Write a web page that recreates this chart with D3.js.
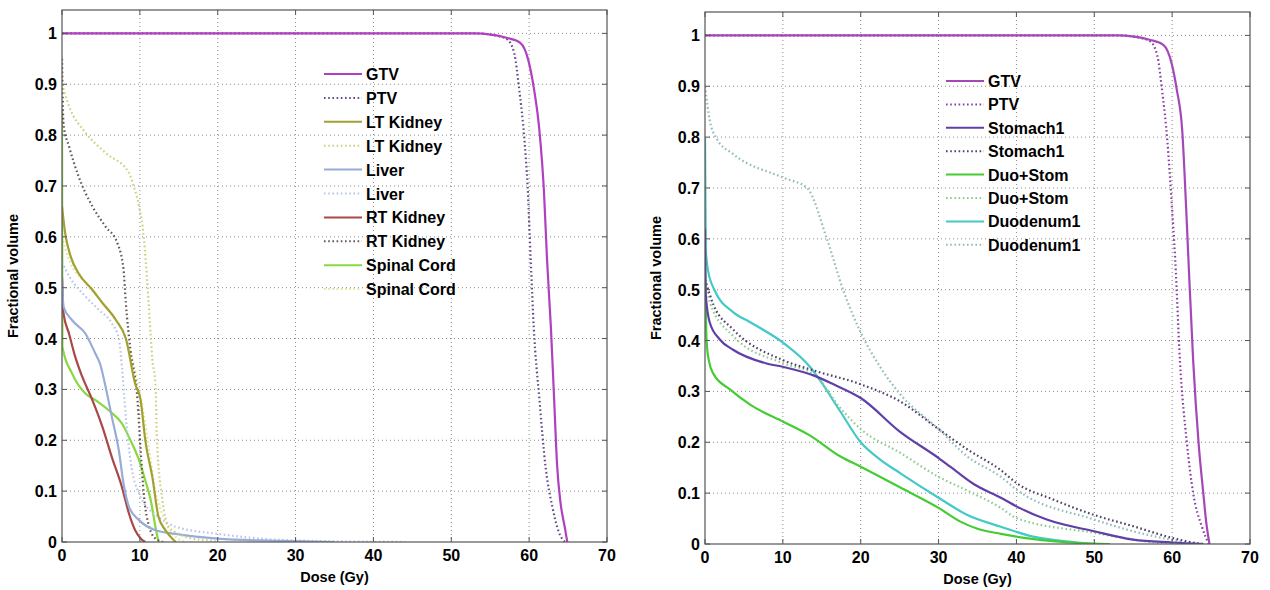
<!DOCTYPE html>
<html><head><meta charset="utf-8">
<script src="https://cdn.jsdelivr.net/npm/d3@7"></script>
<style>body{margin:0;background:#fff}text{font-family:"Liberation Sans",Arial,sans-serif;fill:#000}</style>
</head><body>
<svg id="c" width="1270" height="590"></svg>
<script>
// ---------- DATA ----------
const xTicks = [0,10,20,30,40,50,60,70];
const xTickLabels = ["0","10","20","30","40","50","60","70"];
const yTicks = [0,0.1,0.2,0.3,0.4,0.5,0.6,0.7,0.8,0.9,1];
const yTickLabels = ["0","0.1","0.2","0.3","0.4","0.5","0.6","0.7","0.8","0.9","1"];
const xLabel = "Dose (Gy)";
const yLabel = "Fractional volume";

// Left panel series: [dose, fractional volume]
const L_GTV = [[0,1],[53,1],[57.2,0.991],[58.9,0.981],[59.9,0.947],[60.6,0.893],[61.3,0.812],[61.9,0.69],[62.3,0.555],[62.8,0.42],[63.2,0.284],[63.6,0.149],[64,0.081],[64.6,0.027],[64.9,0]];
const L_PTV = [[0,1],[53,1],[56,0.995],[57.2,0.988],[58.1,0.96],[58.7,0.893],[59.4,0.79],[59.8,0.70],[60.2,0.555],[60.6,0.42],[61.3,0.284],[62.1,0.149],[63,0.068],[63.8,0.02],[64.6,0]];
const L_LTK = [[0,0.66],[0.4,0.608],[1.1,0.562],[2.1,0.529],[3.9,0.496],[5.2,0.47],[6.9,0.437],[8.2,0.40],[9.4,0.311],[10.1,0.279],[10.7,0.2],[11.6,0.128],[12.4,0.049],[13.3,0.023],[14.6,0]];
const L_LTK_d = [[0,0.9],[0.9,0.857],[3,0.805],[5.6,0.765],[8.6,0.726],[9.2,0.7],[9.9,0.66],[10.5,0.6],[11,0.5],[11.4,0.403],[11.6,0.36],[12,0.311],[12.2,0.2],[12.9,0.082],[13.7,0.03],[15,0.016],[16.7,0.007],[18.9,0.003],[20,0]];
const L_Liver = [[0,0.52],[0.2,0.462],[1.3,0.436],[3,0.41],[4.3,0.37],[4.9,0.35],[5.6,0.305],[6.4,0.246],[7.3,0.18],[7.9,0.115],[8.6,0.069],[9.9,0.043],[12,0.023],[14.6,0.016],[20,0.0066],[25.3,0.003],[30,0.002],[35,0]];
const L_Liver_d = [[0,0.55],[0.9,0.523],[3,0.483],[4.7,0.457],[6.4,0.43],[7.3,0.40],[7.7,0.344],[8.2,0.246],[8.8,0.16],[9.9,0.095],[12.4,0.049],[14.6,0.03],[20,0.016],[25.3,0.007],[30,0.003],[44,0]];
const L_RTK = [[0,0.52],[0.2,0.449],[0.9,0.41],[1.7,0.364],[2.6,0.325],[3.9,0.279],[5.2,0.226],[6.4,0.167],[7.7,0.108],[8.6,0.056],[9.4,0.023],[10.1,0.007],[10.7,0]];
const L_RTK_d = [[0,0.95],[0.2,0.82],[0.9,0.778],[2.1,0.72],[3.9,0.66],[5.6,0.62],[7.1,0.588],[7.9,0.536],[8.2,0.47],[8.8,0.377],[9.7,0.279],[10.1,0.18],[10.5,0.095],[11.2,0.03],[12,0.007],[13,0]];
const L_SC = [[0,0.85],[0.05,0.384],[1.3,0.331],[3,0.292],[4.3,0.279],[6,0.259],[7.7,0.233],[8.8,0.2],[9.9,0.161],[10.7,0.121],[11.4,0.082],[12,0.03],[12.4,0]];
const L_SC_d = [[0,0.6],[0.9,0.555],[3,0.51],[5.2,0.47],[6.9,0.437],[8.2,0.40],[9.5,0.33],[10.5,0.25],[11.2,0.18],[12,0.1],[13,0.05],[14,0.02],[15,0.005],[16,0]];

// Right panel series
const R_GTV = [[0,1],[53,1],[57.2,0.991],[58.9,0.981],[59.9,0.947],[60.6,0.893],[61.3,0.812],[61.8,0.66],[62.1,0.557],[62.7,0.361],[63.4,0.198],[64,0.1],[64.4,0.04],[64.8,0]];
const R_PTV = [[0,1],[53,1],[56,0.995],[57.2,0.988],[58.1,0.96],[58.7,0.893],[59.4,0.79],[59.9,0.68],[60.4,0.557],[61,0.361],[61.9,0.198],[62.7,0.1],[63.8,0.035],[64.7,0]];
const R_Stom = [[0,0.62],[0.1,0.49],[0.6,0.436],[1.9,0.402],[3.6,0.382],[7.9,0.355],[10.1,0.348],[14,0.331],[16.5,0.314],[20,0.287],[25.1,0.22],[30,0.169],[31.5,0.152],[34.5,0.118],[38,0.091],[40,0.074],[43.9,0.048],[50,0.025],[55,0.0085],[60,0.003],[64,0]];
const R_Stom_d = [[0,0.52],[1.1,0.47],[3.6,0.422],[10.1,0.361],[14,0.341],[20,0.314],[25.1,0.28],[30,0.226],[33.7,0.186],[38,0.145],[40,0.12],[44.8,0.087],[50,0.057],[55,0.035],[60,0.012],[63,0.002],[64,0]];
const R_DS = [[0,0.56],[0.2,0.40],[0.5,0.36],[1.1,0.334],[3.2,0.304],[5.8,0.274],[10.1,0.24],[13.5,0.213],[17.4,0.172],[20,0.152],[25.1,0.111],[30,0.071],[32.8,0.044],[35,0.03],[38,0.02],[42,0.01],[48,0.002],[52,0]];
const R_DS_d = [[0,0.52],[0.6,0.476],[3.6,0.409],[10.1,0.355],[14,0.334],[17.4,0.267],[20,0.226],[25.1,0.179],[30,0.132],[33.7,0.105],[38,0.071],[40,0.051],[50,0.022],[56.8,0.005],[60,0]];
const R_Duo = [[0,0.80],[0.1,0.58],[0.4,0.537],[1.3,0.497],[3.6,0.456],[5.8,0.436],[10.1,0.395],[13.5,0.348],[14.8,0.321],[17.4,0.26],[20,0.2],[22.5,0.166],[25.1,0.139],[30,0.091],[33.7,0.057],[38,0.034],[42,0.015],[47,0.004],[50,0]];
const R_Duo_d = [[0,0.9],[0.6,0.834],[1.5,0.797],[3.6,0.767],[10.1,0.72],[13.1,0.7],[15.7,0.598],[17.8,0.497],[20,0.416],[22.5,0.348],[25.1,0.294],[30,0.226],[33.7,0.172],[38,0.132],[40,0.107],[50,0.048],[55,0.025],[60,0.008],[63,0]];

const leftNames = ["GTV","PTV","LT Kidney","LT Kidney","Liver","Liver","RT Kidney","RT Kidney","Spinal Cord","Spinal Cord"];
const rightNames = ["GTV","PTV","Stomach1","Stomach1","Duo+Stom","Duo+Stom","Duodenum1","Duodenum1"];
const leftData = [L_GTV,L_PTV,L_LTK,L_LTK_d,L_Liver,L_Liver_d,L_RTK,L_RTK_d,L_SC,L_SC_d];
const rightData = [R_GTV,R_PTV,R_Stom,R_Stom_d,R_DS,R_DS_d,R_Duo,R_Duo_d];

// ---------- STYLES ----------
const leftColors = ["#b040c0","#664a88","#a3a032","#cfcf80","#98acd8","#b8c6e8","#a84848","#665555","#88d840","#dce69a"];
const rightColors = ["#a448b8","#8840a0","#6040a8","#504068","#44cc33","#8fcc8f","#44c8c8","#90bcbc"];
const dashed = [false,true,false,true,false,true,false,true,false,true];

const svg = d3.select("#c");

function panel(cfg){
  const x = d3.scaleLinear().domain([0,70]).range([cfg.x0,cfg.x1]);
  const y = d3.scaleLinear().domain([0,1.046]).range([cfg.yb,cfg.yt]);
  const g = svg.append("g");
  const id = "clip"+cfg.key;
  svg.append("clipPath").attr("id",id).append("rect")
    .attr("x",cfg.x0).attr("y",cfg.yt).attr("width",cfg.x1-cfg.x0).attr("height",cfg.yb-cfg.yt);
  // grid
  g.selectAll(".gx").data(xTicks.slice(1,-1)).enter().append("line")
    .attr("x1",d=>x(d)).attr("x2",d=>x(d)).attr("y1",cfg.yt).attr("y2",cfg.yb)
    .attr("stroke","#8a8a8a").attr("stroke-width",1).attr("stroke-dasharray","1,3");
  g.selectAll(".gy").data(yTicks.slice(1)).enter().append("line")
    .attr("y1",d=>y(d)).attr("y2",d=>y(d)).attr("x1",cfg.x0).attr("x2",cfg.x1)
    .attr("stroke","#8a8a8a").attr("stroke-width",1).attr("stroke-dasharray","1,3");
  // curves
  const line = d3.line().x(d=>x(d[0])).y(d=>y(d[1])).curve(d3.curveMonotoneX);
  const cg = g.append("g").attr("clip-path",`url(#${id})`);
  cfg.data.map((d,i)=>i).reverse().forEach(i=>{
    cg.append("path").attr("d",line(cfg.data[i])).attr("fill","none")
      .attr("stroke",cfg.colors[i]).attr("stroke-width",2.2)
      .attr("stroke-dasharray",dashed[i]?"1.6,2.6":null);
  });
  // frame
  g.append("rect").attr("x",cfg.x0).attr("y",cfg.yt).attr("width",cfg.x1-cfg.x0).attr("height",cfg.yb-cfg.yt)
    .attr("fill","none").attr("stroke","#555").attr("stroke-width",1.2);
  const tl = 5;
  xTicks.forEach(t=>{
    g.append("line").attr("x1",x(t)).attr("x2",x(t)).attr("y1",cfg.yb).attr("y2",cfg.yb-tl).attr("stroke","#555");
    g.append("line").attr("x1",x(t)).attr("x2",x(t)).attr("y1",cfg.yt).attr("y2",cfg.yt+tl).attr("stroke","#555");
  });
  yTicks.forEach(t=>{
    g.append("line").attr("y1",y(t)).attr("y2",y(t)).attr("x1",cfg.x0).attr("x2",cfg.x0+tl).attr("stroke","#555");
    g.append("line").attr("y1",y(t)).attr("y2",y(t)).attr("x1",cfg.x1).attr("x2",cfg.x1-tl).attr("stroke","#555");
  });
  // tick labels
  g.selectAll(".xl").data(xTicks).enter().append("text")
    .attr("x",d=>x(d)).attr("y",cfg.yb+19).attr("text-anchor","middle")
    .attr("font-size",16).attr("font-weight","bold").text((d,i)=>xTickLabels[i]);
  g.selectAll(".yl").data(yTicks).enter().append("text")
    .attr("x",cfg.x0-5).attr("y",d=>y(d)+6).attr("text-anchor","end")
    .attr("font-size",16).attr("font-weight","bold").text((d,i)=>yTickLabels[i]);
  // axis labels
  g.append("text").attr("x",(cfg.x0+cfg.x1)/2).attr("y",cfg.yb+40).attr("text-anchor","middle")
    .attr("font-size",14.5).attr("font-weight","bold").text(xLabel);
  g.append("text").attr("transform",`translate(${cfg.x0-44},${(cfg.yt+cfg.yb)/2}) rotate(-90)`)
    .attr("text-anchor","middle").attr("font-size",14.5).attr("font-weight","bold").text(yLabel);
  // legend
  cfg.names.forEach((n,i)=>{
    const yy = cfg.ly + i*cfg.ld;
    g.append("line").attr("x1",cfg.lx).attr("x2",cfg.lx+38).attr("y1",yy).attr("y2",yy)
      .attr("stroke",cfg.colors[i]).attr("stroke-width",2)
      .attr("stroke-dasharray",dashed[i]?"1.6,2.6":null);
    g.append("text").attr("x",cfg.lx+42).attr("y",yy+6).attr("font-size",16).attr("font-weight","bold").text(n);
  });
}

panel({key:"L",x0:62,x1:607,yt:10,yb:542,data:leftData,names:leftNames,colors:leftColors,lx:324,ly:74,ld:23.9});
panel({key:"R",x0:705,x1:1250,yt:12,yb:544,data:rightData,names:rightNames,colors:rightColors,lx:946,ly:81,ld:23.4});
</script>
</body></html>
